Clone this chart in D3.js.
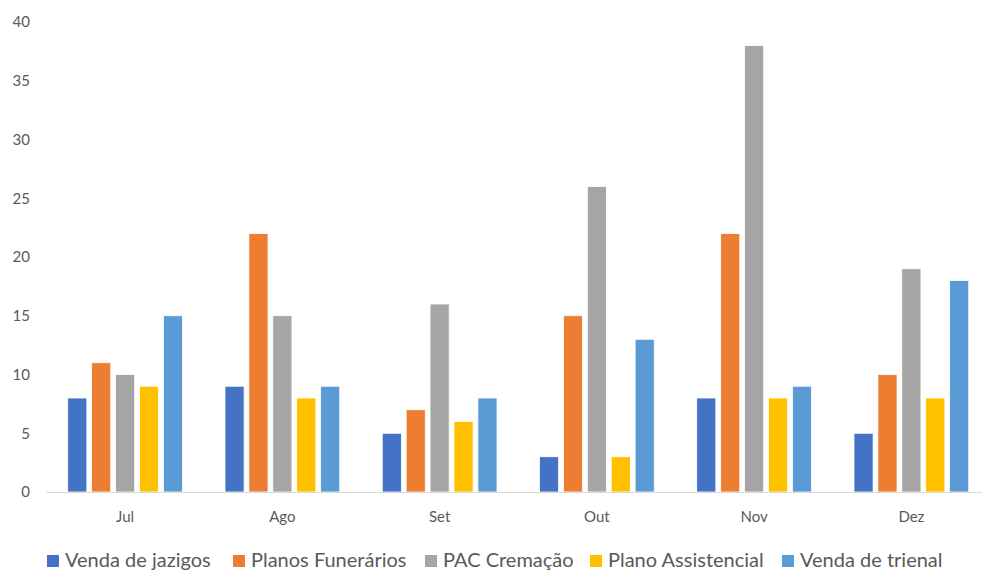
<!DOCTYPE html>
<html><head><meta charset="utf-8">
<script src="https://cdn.jsdelivr.net/npm/d3@7"></script>
<style>
html,body{margin:0;padding:0;background:#fff;overflow:hidden}
svg{display:block}
text{font-family:Lato,"Open Sans",sans-serif;fill:#595959}
</style></head>
<body>
<script>
const categories = ["Jul","Ago","Set","Out","Nov","Dez"];
const seriesNames = ["Venda de jazigos","Planos Funerários","PAC Cremação","Plano Assistencial","Venda de trienal"];
const vendaJazigos = [8, 9, 5, 3, 8, 5];
const planosFunerarios = [11, 22, 7, 15, 22, 10];
const pacCremacao = [10, 15, 16, 26, 38, 19];
const planoAssistencial = [9, 8, 6, 3, 8, 8];
const vendaTrienal = [15, 9, 8, 13, 9, 18];
const yTicks = [0,5,10,15,20,25,30,35,40];
const colors = ["#4472C4","#ED7D31","#A5A5A5","#FFC000","#5B9BD5"];

const seriesValues = [vendaJazigos, planosFunerarios, pacCremacao, planoAssistencial, vendaTrienal];
const W = 982, H = 572;
const svg = d3.select("body").append("svg").attr("width", W).attr("height", H);

const x0 = d3.scaleBand().domain(categories).range([46.5, 990]).paddingInner(0.27).paddingOuter(0.135);
const x1 = d3.scaleBand().domain(seriesNames).range([0, x0.bandwidth()]).paddingInner(0.2).paddingOuter(0);
const y = d3.scaleLinear().domain([0, 40]).range([492, 22]);

// y tick labels
const yAxis = d3.axisLeft(y).tickValues(yTicks).tickSize(0).tickPadding(0);
const gy = svg.append("g").attr("transform", "translate(30,0)").call(yAxis);
gy.select(".domain").remove();
gy.selectAll("text").attr("font-size", 15).attr("fill", "#595959").style("font-family", "Lato, 'Open Sans', sans-serif");

// bars
const groups = svg.append("g").selectAll("g").data(categories).join("g")
  .attr("transform", d => `translate(${x0(d)},0)`);
groups.selectAll("rect").data((c, ci) => seriesNames.map((s, si) => ({s, si, v: seriesValues[si][ci]})))
  .join("rect")
  .attr("x", d => x1(d.s))
  .attr("width", x1.bandwidth())
  .attr("y", d => y(d.v))
  .attr("height", d => y(0) - y(d.v))
  .attr("fill", d => colors[d.si])
  .attr("stroke", "#ffffff").attr("stroke-width", 0.8);

// x axis
const xAxis = d3.axisBottom(x0).tickSize(0).tickPadding(19);
const gx = svg.append("g").attr("transform", "translate(0,492)").call(xAxis);
gx.select(".domain").attr("stroke", "#d9d9d9").attr("stroke-width", 1.2).attr("d", "M46.5,0.5H990");
gx.selectAll("text").attr("font-size", 15).attr("fill", "#595959").style("font-family", "Lato, 'Open Sans', sans-serif");

// legend
const legendX = [47, 233, 425, 590, 782];
const lg = svg.append("g").selectAll("g").data(seriesNames).join("g")
  .attr("transform", (d, i) => `translate(${legendX[i]},0)`);
lg.append("rect").attr("x", 0).attr("y", 555).attr("width", 12).attr("height", 12).attr("fill", (d, i) => colors[i]);
lg.append("text").attr("x", 18).attr("y", 566.5).attr("font-size", 20).text(d => d);
</script>
</body></html>
